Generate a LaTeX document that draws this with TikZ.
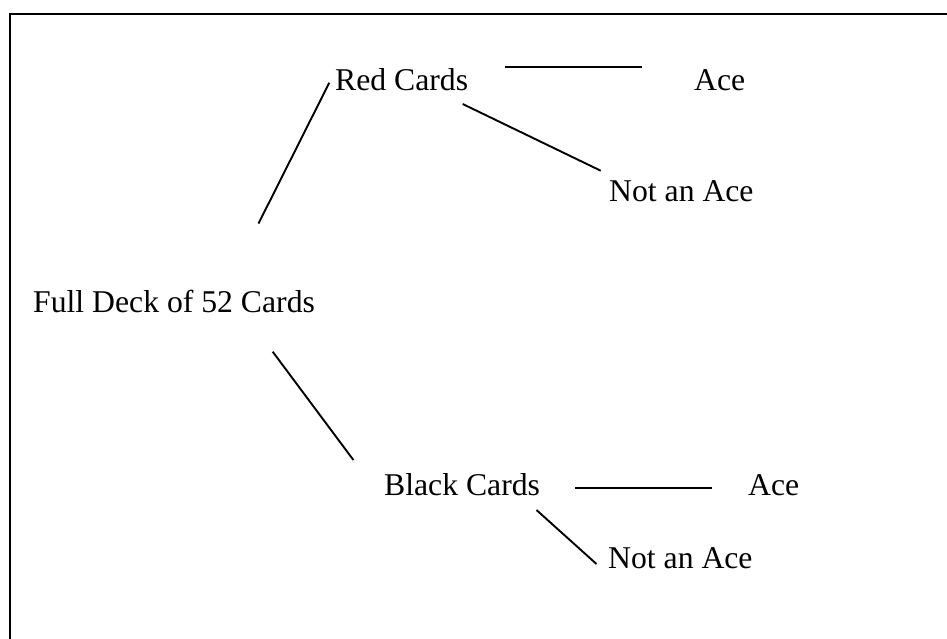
\documentclass[tikz,border=0pt]{standalone}
\usepackage{fontspec}
\setmainfont{Liberation Serif}
\tikzset{
  lbl/.style={anchor=base west, inner sep=0pt, font=\fontsize{31.7}{38}\selectfont},
  conn/.style={line width=1.9pt},
  frame/.style={line width=2.2pt}
}
\begin{document}
\begin{tikzpicture}[x=1pt,y=-1pt]
\useasboundingbox (0,0) rectangle (947,638);
\draw[frame] (10.3,660) -- (10.3,14.3) -- (960,14.3);
\node[lbl] (full) at (33,312) {Full Deck of 52 Cards};
\node[lbl] (red) at (335,90.5) {Red Cards};
\node[lbl] (redace) at (694,90) {Ace};
\node[lbl] (rednot) at (609,201.5) {Not an Ace};
\node[lbl] (black) at (384,495.5) {Black Cards};
\node[lbl] (blackace) at (748,495.5) {Ace};
\node[lbl] (blacknot) at (608,568.5) {Not an Ace};
\coordinate (f1) at (258.5,223.5); \coordinate (r1) at (329.3,82.7);
\coordinate (r2) at (504.5,67.3); \coordinate (ra) at (642,67.3);
\coordinate (r3) at (462.7,104); \coordinate (rn) at (600.7,170.7);
\coordinate (f2) at (272.7,351.7); \coordinate (b1) at (353.4,460);
\coordinate (b2) at (575,488); \coordinate (ba) at (711.5,488);
\coordinate (b3) at (536.5,510); \coordinate (bn) at (596.5,564);
\draw[conn] (f1) -- (r1);
\draw[conn] (r2) -- (ra);
\draw[conn] (r3) -- (rn);
\draw[conn] (f2) -- (b1);
\draw[conn] (b2) -- (ba);
\draw[conn] (b3) -- (bn);
\end{tikzpicture}
\end{document}
